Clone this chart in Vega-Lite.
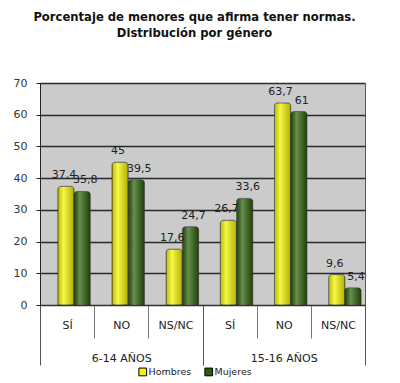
{
  "$schema": "https://vega.github.io/schema/vega-lite/v6.json",
  "width": 325,
  "height": 222,
  "autosize": {"type": "none"},
  "padding": {"left": 40, "top": 83, "right": 35, "bottom": 78},
  "background": "white",
  "title": {
    "text": ["Porcentaje de menores que afirma tener normas.", "Distribución por género"],
    "font": "DejaVu Sans", "fontSize": 11.6, "fontWeight": "bold", "color": "#111",
    "lineHeight": 16, "offset": 37, "dx": -8, "anchor": "middle"
  },
  "config": {
    "view": {"fill": "#cbcbcb", "stroke": "#555", "strokeWidth": 1},
    "locale": {"number": {"decimal": ",", "thousands": ".", "grouping": [3], "currency": ["", " €"]}}
  },
  "data": {"values": [
    {"group": "6-14 AÑOS", "cat": "6-14 AÑOS|SÍ", "sex": "Hombres", "v": 37.4},
    {"group": "6-14 AÑOS", "cat": "6-14 AÑOS|SÍ", "sex": "Mujeres", "v": 35.8},
    {"group": "6-14 AÑOS", "cat": "6-14 AÑOS|NO", "sex": "Hombres", "v": 45},
    {"group": "6-14 AÑOS", "cat": "6-14 AÑOS|NO", "sex": "Mujeres", "v": 39.5},
    {"group": "6-14 AÑOS", "cat": "6-14 AÑOS|NS/NC", "sex": "Hombres", "v": 17.6},
    {"group": "6-14 AÑOS", "cat": "6-14 AÑOS|NS/NC", "sex": "Mujeres", "v": 24.7},
    {"group": "15-16 AÑOS", "cat": "15-16 AÑOS|SÍ", "sex": "Hombres", "v": 26.7},
    {"group": "15-16 AÑOS", "cat": "15-16 AÑOS|SÍ", "sex": "Mujeres", "v": 33.6},
    {"group": "15-16 AÑOS", "cat": "15-16 AÑOS|NO", "sex": "Hombres", "v": 63.7},
    {"group": "15-16 AÑOS", "cat": "15-16 AÑOS|NO", "sex": "Mujeres", "v": 61},
    {"group": "15-16 AÑOS", "cat": "15-16 AÑOS|NS/NC", "sex": "Hombres", "v": 9.6},
    {"group": "15-16 AÑOS", "cat": "15-16 AÑOS|NS/NC", "sex": "Mujeres", "v": 5.4}
  ]},
  "resolve": {"scale": {"x": "independent"}, "axis": {"x": "independent"}},
  "layer": [
    {
      "encoding": {
        "x": {
          "field": "cat", "type": "nominal",
          "sort": ["6-14 AÑOS|SÍ", "6-14 AÑOS|NO", "6-14 AÑOS|NS/NC", "15-16 AÑOS|SÍ", "15-16 AÑOS|NO", "15-16 AÑOS|NS/NC"],
          "scale": {"paddingInner": 0, "paddingOuter": 0},
          "axis": {
            "orient": "bottom", "title": null, "tickBand": "extent", "tickSize": 33,
            "tickColor": "#777", "tickWidth": 1,
            "labelExpr": "split(datum.label, '|')[1]",
            "labelFont": "DejaVu Sans", "labelFontSize": 11, "labelColor": "#222",
            "labelBaseline": "middle", "labelPadding": -13, "labelAngle": 0,
            "domainColor": "#333", "domainWidth": 1, "grid": false
          }
        },
        "xOffset": {
          "field": "sex", "type": "nominal", "sort": ["Hombres", "Mujeres"],
          "scale": {"paddingInner": 0, "paddingOuter": 0.67, "align": 0.82}
        },
        "y": {
          "field": "v", "type": "quantitative",
          "scale": {"domain": [0, 70], "nice": false},
          "axis": {
            "title": null, "values": [0, 10, 20, 30, 40, 50, 60, 70],
            "grid": true, "gridColor": "#2a2a2a", "gridWidth": 1.3,
            "tickSize": 4, "tickColor": "#222", "domainColor": "#222",
            "labelFont": "DejaVu Sans", "labelFontSize": 11, "labelColor": "#333", "labelPadding": 9
          }
        }
      },
      "layer": [
        {
          "mark": {"type": "bar", "stroke": "#333", "strokeWidth": 0.6, "cornerRadiusTopLeft": 3, "cornerRadiusTopRight": 3},
          "encoding": {
            "color": {
              "field": "sex", "type": "nominal",
              "scale": {"domain": ["Hombres", "Mujeres"], "range": ["#f6f600", "#285e06"]},
              "legend": {
                "title": null, "orient": "none", "legendX": 98, "legendY": 284,
                "direction": "horizontal", "symbolType": "square", "symbolSize": 60,
                "symbolStrokeColor": "#000", "symbolStrokeWidth": 1,
                "labelFont": "DejaVu Sans", "labelFontSize": 9.5, "labelColor": "#222",
                "labelOffset": 1, "columnPadding": 10
              }
            }
          }
        },
        {
          "mark": {
            "type": "bar", "cornerRadiusTopLeft": 3, "cornerRadiusTopRight": 3,
            "fill": {
              "gradient": "linear", "x1": 0, "x2": 1, "y1": 0, "y2": 0,
              "stops": [
                {"offset": 0, "color": "rgba(0,0,0,0.22)"},
                {"offset": 0.35, "color": "rgba(255,255,255,0.3)"},
                {"offset": 1, "color": "rgba(0,0,0,0.28)"}
              ]
            }
          }
        },
        {
          "transform": [{"filter": "datum.sex === 'Hombres'"}],
          "mark": {"type": "text", "baseline": "bottom", "dy": -6, "dx": -2, "font": "DejaVu Sans", "fontSize": 11, "color": "#222"},
          "encoding": {"text": {"field": "v", "type": "quantitative", "format": "~g"}}
        },
        {
          "transform": [{"filter": "datum.sex === 'Mujeres'"}],
          "mark": {"type": "text", "baseline": "bottom", "dy": -6, "dx": 3, "font": "DejaVu Sans", "fontSize": 11, "color": "#222"},
          "encoding": {"text": {"field": "v", "type": "quantitative", "format": "~g"}}
        }
      ]
    },
    {
      "mark": {"type": "text", "text": " ", "opacity": 0},
      "encoding": {
        "x": {
          "field": "group", "type": "nominal", "sort": ["6-14 AÑOS", "15-16 AÑOS"],
          "scale": {"paddingInner": 0, "paddingOuter": 0},
          "axis": {
            "orient": "bottom", "title": null, "tickBand": "extent", "tickSize": 60,
            "tickColor": "#555", "domain": false,
            "labelFont": "DejaVu Sans", "labelFontSize": 11, "labelColor": "#222",
            "labelBaseline": "middle", "labelPadding": -7, "labelAngle": 0, "grid": false
          }
        }
      }
    }
  ]
}
